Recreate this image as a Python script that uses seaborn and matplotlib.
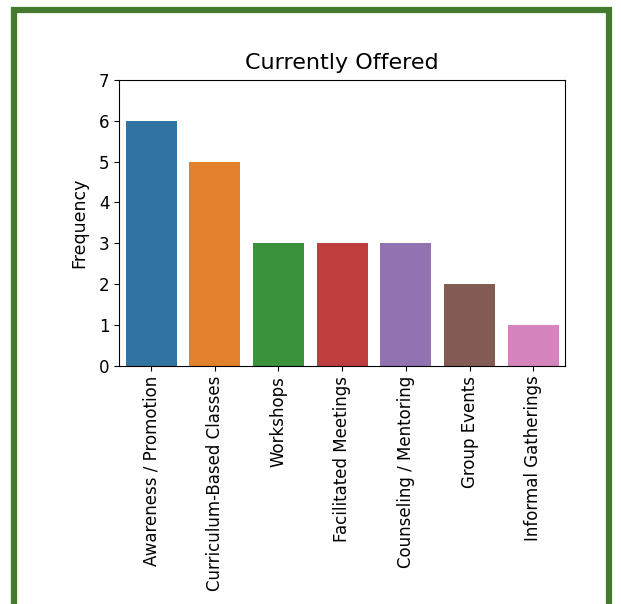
import matplotlib
matplotlib.use("Agg")
import matplotlib.pyplot as plt
import seaborn as sns
import pandas as pd
from matplotlib.patches import Rectangle

categories = ["Awareness / Promotion", "Curriculum-Based Classes", "Workshops",
              "Facilitated Meetings", "Counseling / Mentoring", "Group Events",
              "Informal Gatherings"]
frequency = [6, 5, 3, 3, 3, 2, 1]

df = pd.DataFrame({"Program": categories, "Frequency": frequency})

fig = plt.figure(figsize=(6.21, 6.04), dpi=100)
ax = fig.add_axes([0.192, 0.394, 0.718, 0.474])

sns.barplot(data=df, x="Program", y="Frequency", hue="Program",
            palette="tab10", legend=False, ax=ax)

ax.set_ylim(0, 7)
ax.set_xlabel("")
ax.set_ylabel("Frequency", fontsize=12.5, labelpad=8)
ax.set_title("Currently Offered", fontsize=16, pad=8)
ax.tick_params(axis="y", labelsize=12)
ax.tick_params(axis="x", labelsize=12, labelrotation=90)

# green frame round the figure
fig.patches.append(Rectangle((14 / 621, -0.02), 595 / 621, 1.0035,
                             transform=fig.transFigure, fill=False,
                             edgecolor="#437a2e", linewidth=4.5, zorder=10))

fig.savefig("out.png", dpi=100)
